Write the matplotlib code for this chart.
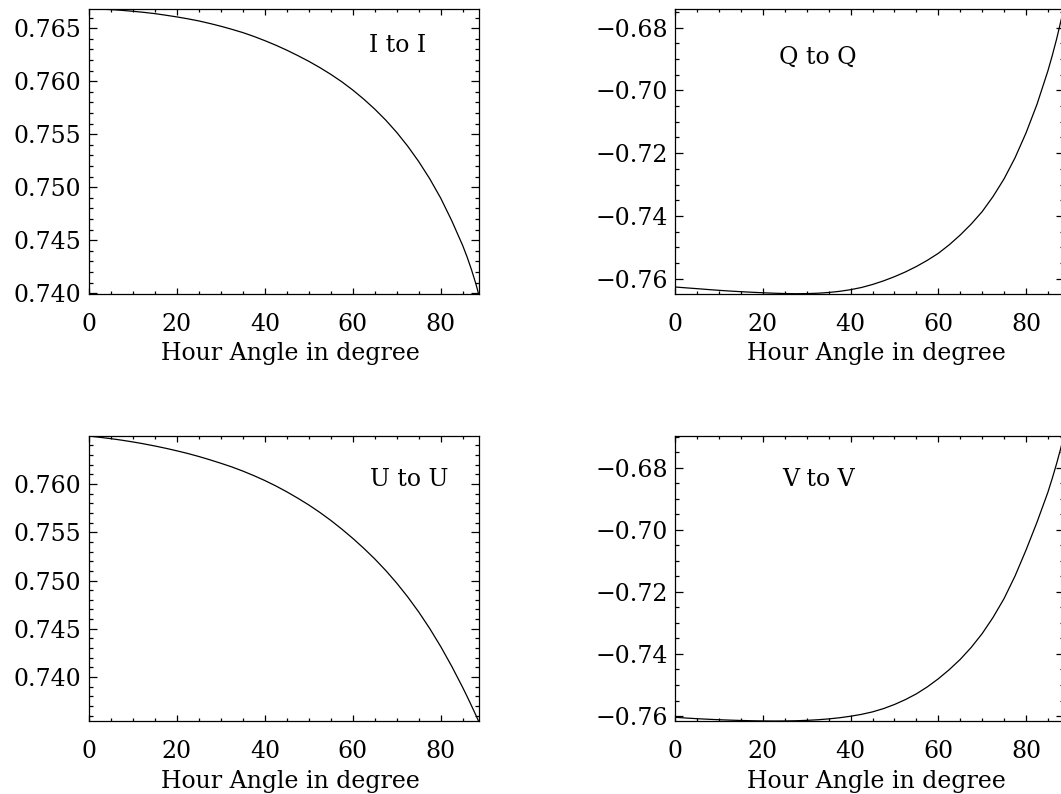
import matplotlib.pyplot as plt
from matplotlib.ticker import MultipleLocator, FuncFormatter

plt.rcParams['font.family'] = ['DejaVu Serif']
plt.rcParams['font.size'] = 17

# Mueller matrix diagonal elements against hour angle (degrees)
hour_angle = [0, 2.5, 5, 7.5, 10, 12.5, 15, 17.5, 20, 22.5, 25, 27.5, 30,
              32.5, 35, 37.5, 40, 42.5, 45, 47.5, 50, 52.5, 55, 57.5, 60,
              62.5, 65, 67.5, 70, 72.5, 75, 77.5, 80, 82.5, 85, 86, 87, 88,
              88.6]

i_to_i = [0.76682, 0.76680, 0.76676, 0.76669, 0.76660, 0.76650, 0.76638,
          0.76623, 0.76607, 0.76589, 0.76569, 0.76545, 0.76519, 0.76490,
          0.76459, 0.76423, 0.76383, 0.76340, 0.76293, 0.76242, 0.76188,
          0.76129, 0.76065, 0.75995, 0.75917, 0.75831, 0.75737, 0.75633,
          0.75517, 0.75387, 0.75242, 0.75080, 0.74897, 0.74685, 0.74450,
          0.74342, 0.74222, 0.74088, 0.73995]

q_to_q = [-0.76266, -0.76293, -0.76319, -0.76346, -0.76372, -0.76395,
          -0.76415, -0.76433, -0.76449, -0.76463, -0.76474, -0.76479,
          -0.76476, -0.76464, -0.76440, -0.76403, -0.76351, -0.76280,
          -0.76185, -0.76070, -0.75937, -0.75785, -0.75612, -0.75415,
          -0.75193, -0.74920, -0.74609, -0.74260, -0.73865, -0.73380,
          -0.72820, -0.72150, -0.71360, -0.70450, -0.69380, -0.68890,
          -0.68360, -0.67770, -0.67405]

u_to_u = [0.76497, 0.76484, 0.76470, 0.76454, 0.76436, 0.76416, 0.76394,
          0.76370, 0.76344, 0.76316, 0.76285, 0.76251, 0.76215, 0.76177,
          0.76134, 0.76087, 0.76036, 0.75980, 0.75919, 0.75853, 0.75783,
          0.75706, 0.75623, 0.75533, 0.75437, 0.75334, 0.75224, 0.75104,
          0.74973, 0.74830, 0.74674, 0.74503, 0.74316, 0.74112, 0.73892,
          0.73799, 0.73703, 0.73605, 0.73544]

v_to_v = [-0.76040, -0.76065, -0.76086, -0.76104, -0.76119, -0.76132,
          -0.76143, -0.76152, -0.76158, -0.76161, -0.76159, -0.76152,
          -0.76139, -0.76120, -0.76092, -0.76055, -0.76006, -0.75945,
          -0.75866, -0.75760, -0.75628, -0.75470, -0.75285, -0.75060,
          -0.74800, -0.74505, -0.74175, -0.73790, -0.73345, -0.72820,
          -0.72215, -0.71490, -0.70656, -0.69760, -0.68790, -0.68340,
          -0.67860, -0.67340, -0.66977]

panels = [
    ("I to I", i_to_i, [0.0839, 0.6301, 0.3671, 0.3586], 0.005, 0.001, "%.3f", (0.792, 0.848)),
    ("Q to Q", q_to_q, [0.6365, 0.6301, 0.3660, 0.3586], 0.02, 0.005, "%.2f", (0.366, 0.807)),
    ("U to U", u_to_u, [0.0839, 0.0919, 0.3671, 0.3589], 0.005, 0.001, "%.3f", (0.822, 0.825)),
    ("V to V", v_to_v, [0.6365, 0.0919, 0.3660, 0.3589], 0.02, 0.005, "%.2f", (0.368, 0.826)),
]

fig = plt.figure(figsize=(10.61, 7.94), dpi=100)

for name, values, rect, major, minor, fmt, text_pos in panels:
    ax = fig.add_axes(rect)
    ax.plot(hour_angle, values, color='black', linewidth=0.9)
    ax.set_xlim(hour_angle[0], hour_angle[-1])
    ax.set_ylim(min(values), max(values))

    ax.xaxis.set_major_locator(MultipleLocator(20))
    ax.xaxis.set_minor_locator(MultipleLocator(5))
    ax.yaxis.set_major_locator(MultipleLocator(major))
    ax.yaxis.set_minor_locator(MultipleLocator(minor))
    ax.yaxis.set_major_formatter(
        FuncFormatter(lambda v, pos, f=fmt: (f % v).replace('-', '\u2212')))

    ax.tick_params(which='both', direction='in', top=True, right=True,
                   color='black', width=0.9)
    ax.tick_params(axis='x', which='major', length=4.3, pad=14)
    ax.tick_params(axis='x', which='minor', length=2.2)
    ax.tick_params(axis='y', which='major', length=5.8, pad=5.5)
    ax.tick_params(axis='y', which='minor', length=2.9)
    for spine in ax.spines.values():
        spine.set_linewidth(0.9)

    ax.text(text_pos[0], text_pos[1], name, transform=ax.transAxes,
            ha='center', va='baseline')
    ax.text(0.518, -0.234, "Hour Angle in degree", transform=ax.transAxes,
            ha='center', va='baseline')

fig.savefig("out.png", dpi=100)
